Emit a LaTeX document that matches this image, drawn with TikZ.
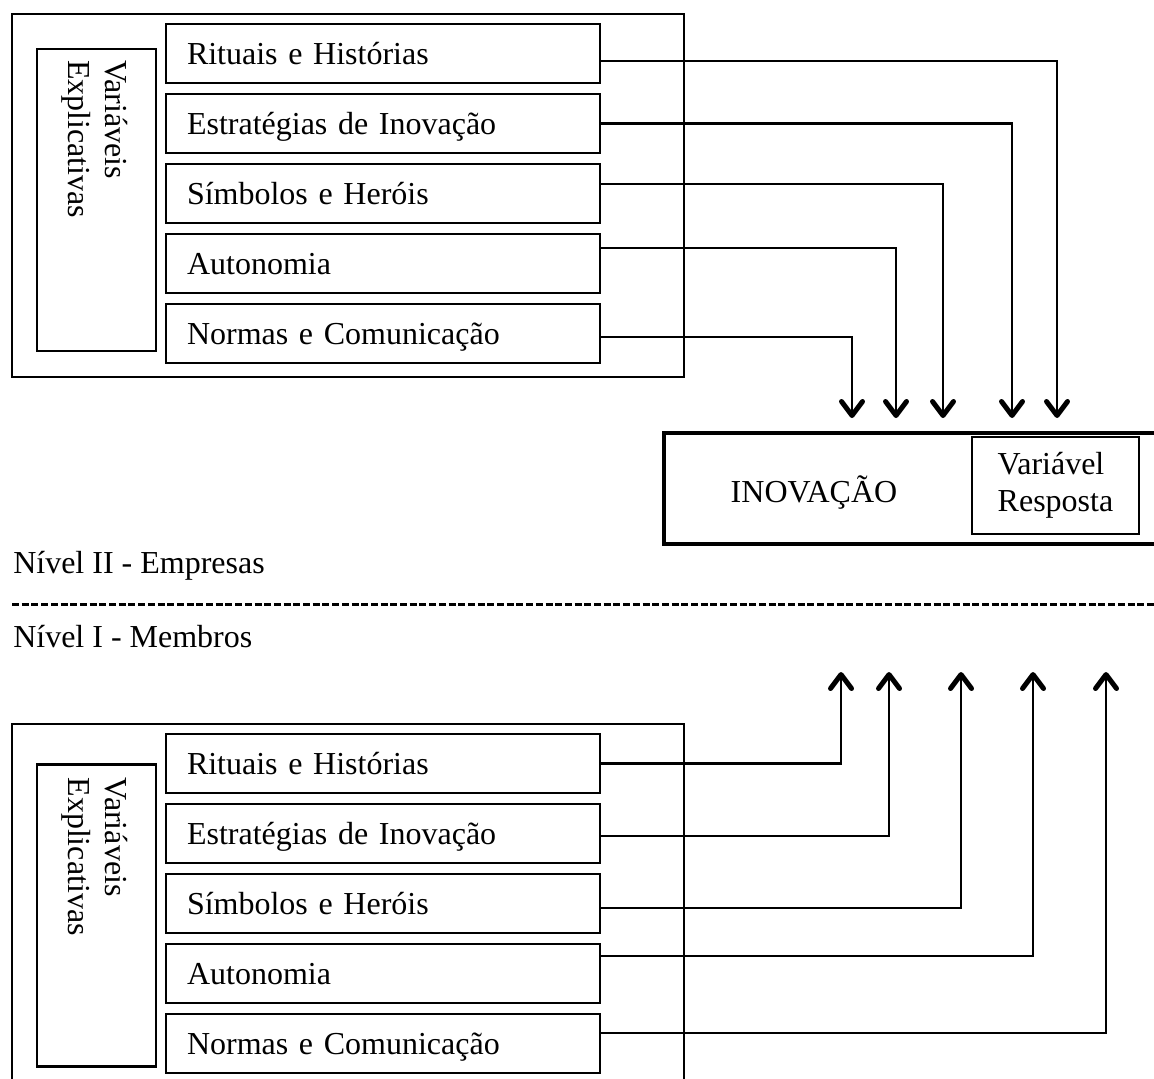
\documentclass[tikz,border=0pt]{standalone}
\usepackage{fontspec}
\setmainfont{Liberation Serif}
\usetikzlibrary{arrows.meta}

\begin{document}
\begin{tikzpicture}[x=1pt,y=-1pt,node distance=70pt,line width=2.5pt,
  every node/.style={font=\fontsize{32}{37}\selectfont},
  outer box/.style={draw,line width=2.8pt,minimum width=672pt,minimum height=363pt},
  var box/.style={draw,line width=2.5pt,minimum width=119pt,minimum height=302pt},
  var text/.style={rotate=-90,anchor=west,align=left,inner sep=0pt},
  item node/.style={draw,line width=2.8pt,minimum width=434pt,minimum height=59pt,
    text width=392pt,inner xsep=21pt,align=left,text height=24pt,text depth=3pt},
  link/.style={line width=2.7pt,-{Straight Barb[length=14pt,width=21pt,line width=5pt,round]}}]

  \useasboundingbox (0,0) rectangle (1154,1079);

  % Nivel II - empresas
  \node[outer box] (empresa) at (348,195.5) {};
  \node[var box] (var1) at (96.5,200) {};
  \node[var text] (vt1) at ([xshift=-2pt,yshift=-11pt]var1.north) {Variáveis\\Explicativas};

  \node[item node] (ritI) at (383,53.5) {Rituais e Histórias};
  \node[item node] (estI) [below of=ritI] {Estratégias de Inovação};
  \node[item node] (simI) [below of=estI] {Símbolos e Heróis};
  \node[item node] (autI) [below of=simI] {Autonomia};
  \node[item node] (norI) [below of=autI] {Normas e Comunicação};

  \node[draw,line width=4.5pt,minimum width=511pt,minimum height=111pt] (inov) at (919.5,488.5) {};
  \node[anchor=base] (inovtxt) at (814,502) {INOVAÇÃO};
  \node[draw,line width=1.5pt,minimum width=167pt,minimum height=97pt,align=left] (resp)
    at (1055.5,485.5) {Variável\\Resposta};

  \coordinate (a1) at (852,418);
  \coordinate (a2) at (896,418);
  \coordinate (a3) at (943,418);
  \coordinate (a4) at (1012,418);
  \coordinate (a5) at (1057,418);

  \draw[link] ([yshift=-7.5pt]ritI.east) -| (a5);
  \draw[link] (estI.east) -| (a4);
  \draw[link] ([yshift=9.5pt]simI.east) -| (a3);
  \draw[link] ([yshift=15.5pt]autI.east) -| (a2);
  \draw[link] ([yshift=-3.5pt]norI.east) -| (a1);

  % separacao dos niveis
  \node[anchor=base west,inner sep=0pt] (niv2) at (12,573) {Nível II - Empresas};
  \coordinate (sepL) at (12,604);
  \coordinate (sepR) at (1160,604);
  \draw[line width=3pt,dash pattern=on 7pt off 2.7pt] (sepL) -- (sepR);
  \node[anchor=base west,inner sep=0pt] (niv1) at (12,647) {Nível I - Membros};

  % Nivel I - membros
  \node[outer box] (membro) at (348,905.5) {};
  \node[var box] (var2) at (96.5,915.5) {};
  \node[var text] (vt2) at ([xshift=-2pt,yshift=-13pt]var2.north) {Variáveis\\Explicativas};

  \node[item node] (ritII) at (383,763.5) {Rituais e Histórias};
  \node[item node] (estII) [below of=ritII] {Estratégias de Inovação};
  \node[item node] (simII) [below of=estII] {Símbolos e Heróis};
  \node[item node] (autII) [below of=simII] {Autonomia};
  \node[item node] (norII) [below of=autII] {Normas e Comunicação};

  \coordinate (b1) at (841,672);
  \coordinate (b2) at (889,672);
  \coordinate (b3) at (961,672);
  \coordinate (b4) at (1033,672);
  \coordinate (b5) at (1106,672);

  \draw[link] (ritII.east) -| (b1);
  \draw[link] ([yshift=-2.5pt]estII.east) -| (b2);
  \draw[link] ([yshift=-4.5pt]simII.east) -| (b3);
  \draw[link] ([yshift=17.5pt]autII.east) -| (b4);
  \draw[link] ([yshift=10.5pt]norII.east) -| (b5);

\end{tikzpicture}
\end{document}
